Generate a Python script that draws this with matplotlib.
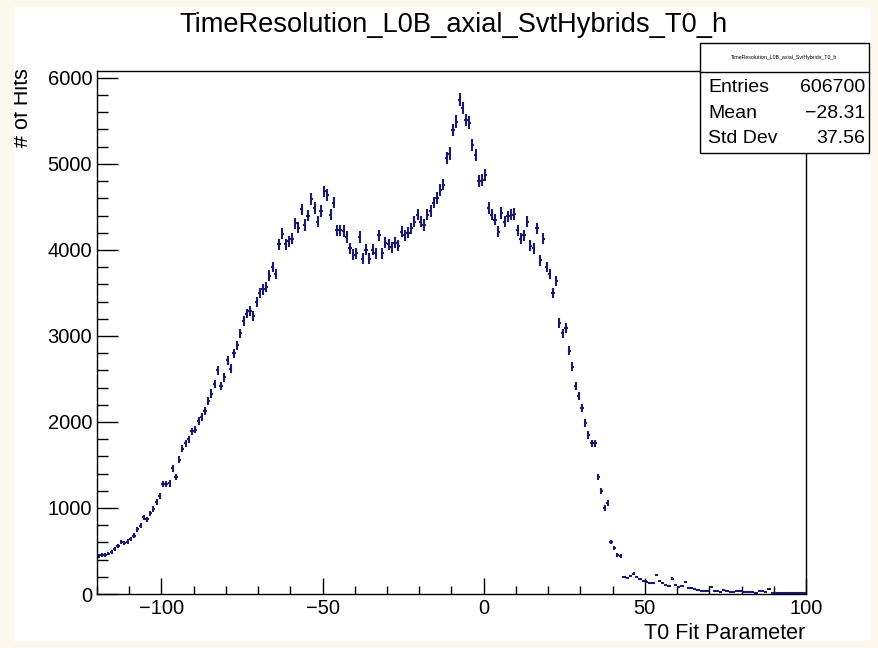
import numpy as np
import matplotlib
matplotlib.use("Agg")
import matplotlib.pyplot as plt
from matplotlib.patches import Rectangle
from matplotlib.ticker import MultipleLocator

title = "TimeResolution_L0B_axial_SvtHybrids_T0_h"
x_label = "T0 Fit Parameter"
y_label = "# of Hits"
x_min, x_max = -120, 100
y_max = 6080
stats_names = ["Entries", "Mean", "Std Dev"]
stats_values = ["606700", "\u221228.31", "37.56"]

counts = [
    # -120 .. -101
    440, 450, 455, 470, 490, 525, 560, 600, 595, 610, 640, 680, 750, 795, 890, 870, 940, 990, 1070, 1140,
    # -100 .. -81
    1280, 1275, 1285, 1460, 1360, 1560, 1690, 1750, 1800, 1890, 1910, 2010, 2060, 2130, 2240, 2330, 2440, 2600, 2420, 2520,
    # -80 .. -61
    2720, 2620, 2800, 2890, 3030, 3170, 3260, 3290, 3230, 3400, 3500, 3540, 3565, 3700, 3800, 3720, 4065, 4190, 4065, 4100,
    # -60 .. -41
    4130, 4310, 4260, 4470, 4290, 4400, 4590, 4490, 4330, 4450, 4680, 4640, 4410, 4550, 4230, 4230, 4220, 4150, 4020, 3945,
    # -40 .. -21
    3960, 4150, 3900, 4000, 3900, 4000, 3960, 4170, 3960, 4085, 4065, 4030, 4085, 4050, 4210, 4170, 4200, 4250, 4330, 4410,
    # -20 .. -1
    4330, 4290, 4410, 4450, 4550, 4600, 4700, 4760, 5070, 5120, 5395, 5490, 5744, 5650, 5510, 5480, 5220, 5105, 4800, 4814,
    # 0 .. 19
    4872, 4490, 4410, 4350, 4210, 4430, 4330, 4390, 4410, 4420, 4230, 4130, 4170, 4330, 4050, 4020, 4250, 3880, 4130, 3800,
    # 20 .. 43
    3720, 3500, 3640, 3150, 3030, 3090, 2830, 2640, 2420, 2300, 2160, 1990, 1850, 1750, 1750, 1360, 1200, 1000, 1060, 600,
    530, 450, 445, 195,
    # 44 .. 99
    185, 210, 235, 200, 170, 150, 145, 130, 125, 220, 150, 125, 100, 95, 180, 110, 85, 90, 140, 75,
    65, 55, 50, 40, 35, 30, 80, 40, 30, 20, 45, 30, 28, 25, 30, 38, 22, 18, 28, 20,
    15, 35, 38, 20, 60, 15, 10, 8, 12, 15, 10, 12, 8, 14, 10, 6,
]

W, H = 879, 648
cream = "#fdf8ec"
navy = "#1a1a70"
font = ["Liberation Sans", "DejaVu Sans"]
plt.rcParams["font.family"] = font

fig = plt.figure(figsize=(W / 100, H / 100), dpi=100, facecolor=cream)
fig.patches.append(Rectangle((14 / W, 1 - 641 / H), (871 - 14) / W, (641 - 7) / H,
                             transform=fig.transFigure, facecolor="white", edgecolor="none", zorder=-5))

ax = fig.add_axes([97 / W, 1 - 594 / H, (806 - 97) / W, (594 - 71) / H])
ax.set_facecolor("white")

counts_arr = np.array(counts, dtype=float)
nb = len(counts_arr)
edges = np.linspace(x_min, x_max, nb + 1)
centers = 0.5 * (edges[:-1] + edges[1:])
half = 0.5 * (edges[1] - edges[0])
ax.errorbar(centers, counts_arr, xerr=half, yerr=np.sqrt(counts_arr), fmt="none",
            ecolor=navy, elinewidth=1.5, capsize=0)

ax.set_xlim(x_min, x_max)
ax.set_ylim(0, y_max)
ax.xaxis.set_major_locator(MultipleLocator(50))
ax.xaxis.set_minor_locator(MultipleLocator(10))
ax.yaxis.set_major_locator(MultipleLocator(1000))
ax.yaxis.set_minor_locator(MultipleLocator(200))
ax.tick_params(axis="both", which="both", direction="in", top=False, right=False,
               width=1.0, color="black", labelsize=14.5)
ax.tick_params(axis="x", which="major", length=11.5, pad=3.5)
ax.tick_params(axis="x", which="minor", length=6)
ax.tick_params(axis="y", which="major", length=15, pad=3.5)
ax.tick_params(axis="y", which="minor", length=8)
for s in ax.spines.values():
    s.set_linewidth(1.0)

fig.text(453 / W, 1 - 32 / H, title, ha="center", va="baseline", fontsize=19.6)
fig.text(805 / W, 1 - 639 / H, x_label, ha="right", va="baseline", fontsize=15.5)
fig.text(28 / W, 1 - 68 / H, y_label, ha="right", va="baseline", fontsize=15.5,
         rotation=90, rotation_mode="anchor")

# stats box
bx0, bx1, by0, by1, bdiv = 700, 869, 43, 153, 72
fig.patches.append(Rectangle((bx0 / W, 1 - by1 / H), (bx1 - bx0) / W, (by1 - by0) / H,
                             transform=fig.transFigure, facecolor="white", edgecolor="black",
                             linewidth=1.0, zorder=5))
fig.lines.append(plt.Line2D([bx0 / W, bx1 / W], [1 - bdiv / H, 1 - bdiv / H],
                            transform=fig.transFigure, color="black", linewidth=1.0, zorder=6))
fig.text((bx0 + bx1) / 2 / W, 1 - 58 / H, title, ha="center", va="center", fontsize=3.8, zorder=7)
row_y = [87, 113, 139]
for name, val, ry in zip(stats_names, stats_values, row_y):
    fig.text(708 / W, 1 - ry / H, name, ha="left", va="center", fontsize=14, zorder=7)
    fig.text(865 / W, 1 - ry / H, val, ha="right", va="center", fontsize=14, zorder=7)

# cream border on top (clips the y label like the reference)
for (x0, y0, x1, y1) in [(0, 0, 14, H), (0, 0, W, 7), (871, 0, W, H), (0, 641, W, H)]:
    fig.patches.append(Rectangle((x0 / W, 1 - y1 / H), (x1 - x0) / W, (y1 - y0) / H,
                                 transform=fig.transFigure, facecolor=cream, edgecolor="none", zorder=20))

fig.savefig("out.png", dpi=100, facecolor=cream)
